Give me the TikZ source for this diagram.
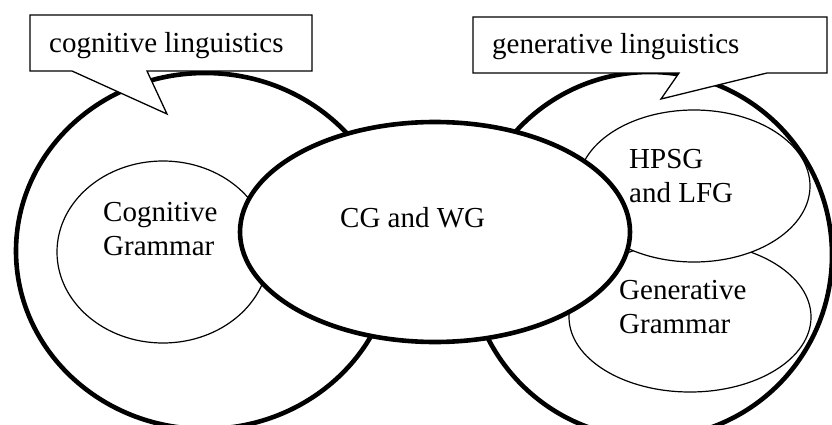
\documentclass[tikz,border=0pt]{standalone}
\usepackage{fontspec}
\setmainfont{Liberation Serif}
\begin{document}
\begin{tikzpicture}[x=1pt,y=-1pt,
  bigring/.style={line width=4.6pt},
  subset/.style={line width=1.2pt, fill=white},
  callout/.style={line width=1.3pt, fill=white, line join=miter},
  txt/.style={inner sep=0pt, anchor=base west, align=left,
              font=\fontsize{29}{34}\selectfont}]
\useasboundingbox (0,0) rectangle (832,425);
\clip (0,0) rectangle (832,425);

% the two fields
\draw[bigring] (205,251) ellipse [x radius=189, y radius=178];
\draw[bigring] (650,255) ellipse [x radius=182, y radius=183];

% field labels as speech callouts
\draw[callout] (30,15) -- (312,15) -- (312,71) -- (147,71) -- (167,114)
  -- (72,71) -- (30,71) -- cycle;
\draw[callout] (473,17) -- (827,17) -- (827,73) -- (767,73) -- (661,99)
  -- (679,73) -- (473,73) -- cycle;

% theories inside each field
\draw[subset] (163,252) ellipse [x radius=106, y radius=91];
\draw[subset] (690,317) ellipse [x radius=121, y radius=75];
\draw[subset] (694,186) ellipse [x radius=116, y radius=76];

% the overlap in the middle
\draw[bigring, fill=white] (435,232) ellipse [x radius=195, y radius=110];

% labels (two-line labels are placed by the baseline of their last line)
\node[txt] (cl) at (49,53) {cognitive linguistics};
\node[txt] (gl) at (492,54) {generative linguistics};
\node[txt] (cgwg) at (340,227) {CG and WG};
\node[txt] (cog) at (103,255) {Cognitive\\Grammar};
\node[txt] (hpsg) at (629,202) {HPSG\\and LFG};
\node[txt] (gen) at (619,333) {Generative\\Grammar};
\end{tikzpicture}
\end{document}
